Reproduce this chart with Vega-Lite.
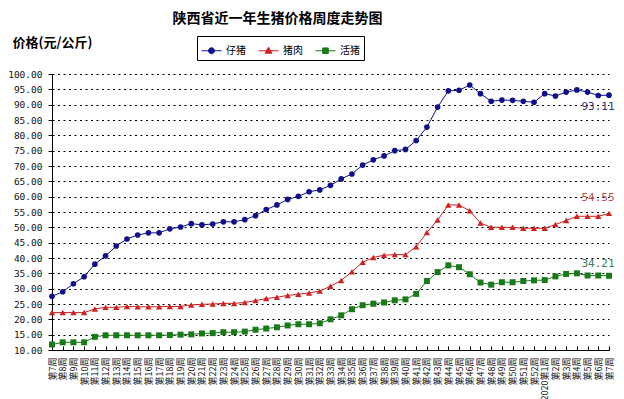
{
  "$schema": "https://vega.github.io/schema/vega-lite/v6.json",
  "width": 557,
  "height": 276,
  "autosize": "none",
  "padding": {"left": 52, "top": 74, "right": 15, "bottom": 49},
  "background": "white",
  "title": {
    "text": "陕西省近一年生猪价格周度走势图",
    "anchor": "middle",
    "frame": "group",
    "dx": -53,
    "dy": -6,
    "font": "Noto Sans CJK SC",
    "fontSize": 14,
    "fontWeight": "bold",
    "color": "#000"
  },
  "config": {
    "view": {"stroke": null},
    "font": "Noto Sans CJK SC"
  },
  "data": {
    "values": [
      {"i": 0, "仔猪": 27.5, "猪肉": 22.2, "活猪": 11.8},
      {"i": 1, "仔猪": 29.0, "猪肉": 22.2, "活猪": 12.5},
      {"i": 2, "仔猪": 31.6, "猪肉": 22.2, "活猪": 12.5},
      {"i": 3, "仔猪": 33.9, "猪肉": 22.2, "活猪": 12.5},
      {"i": 4, "仔猪": 38.0, "猪肉": 23.4, "活猪": 14.3},
      {"i": 5, "仔猪": 40.7, "猪肉": 23.9, "活猪": 14.8},
      {"i": 6, "仔猪": 43.9, "猪肉": 23.9, "活猪": 14.8},
      {"i": 7, "仔猪": 46.2, "猪肉": 24.2, "活猪": 14.8},
      {"i": 8, "仔猪": 47.5, "猪肉": 24.1, "活猪": 14.8},
      {"i": 9, "仔猪": 48.2, "猪肉": 24.1, "活猪": 14.8},
      {"i": 10, "仔猪": 48.2, "猪肉": 24.1, "活猪": 14.8},
      {"i": 11, "仔猪": 49.5, "猪肉": 24.2, "活猪": 14.9},
      {"i": 12, "仔猪": 50.1, "猪肉": 24.2, "活猪": 15.0},
      {"i": 13, "仔猪": 51.2, "猪肉": 24.7, "活猪": 15.1},
      {"i": 14, "仔猪": 50.8, "猪肉": 24.9, "活猪": 15.4},
      {"i": 15, "仔猪": 51.1, "猪肉": 25.0, "活猪": 15.5},
      {"i": 16, "仔猪": 51.8, "猪肉": 25.2, "活猪": 15.8},
      {"i": 17, "仔猪": 51.8, "猪肉": 25.2, "活猪": 15.8},
      {"i": 18, "仔猪": 52.5, "猪肉": 25.5, "活猪": 16.0},
      {"i": 19, "仔猪": 53.8, "猪肉": 26.1, "活猪": 16.6},
      {"i": 20, "仔猪": 55.8, "猪肉": 26.8, "活猪": 17.0},
      {"i": 21, "仔猪": 57.3, "猪肉": 27.2, "活猪": 17.4},
      {"i": 22, "仔猪": 59.1, "猪肉": 27.8, "活猪": 18.0},
      {"i": 23, "仔猪": 60.1, "猪肉": 28.2, "活猪": 18.4},
      {"i": 24, "仔猪": 61.6, "猪肉": 28.6, "活猪": 18.4},
      {"i": 25, "仔猪": 62.2, "猪肉": 29.2, "活猪": 18.7},
      {"i": 26, "仔猪": 63.7, "猪肉": 30.8, "活猪": 20.0},
      {"i": 27, "仔猪": 65.8, "猪肉": 32.7, "活猪": 21.3},
      {"i": 28, "仔猪": 67.4, "猪肉": 35.5, "活猪": 23.3},
      {"i": 29, "仔猪": 70.3, "猪肉": 38.6, "活猪": 24.6},
      {"i": 30, "仔猪": 72.0, "猪肉": 40.2, "活猪": 25.1},
      {"i": 31, "仔猪": 73.3, "猪肉": 40.9, "活猪": 25.5},
      {"i": 32, "仔猪": 75.0, "猪肉": 41.1, "活猪": 26.2},
      {"i": 33, "仔猪": 75.4, "猪肉": 41.1, "活猪": 26.5},
      {"i": 34, "仔猪": 78.3, "猪肉": 43.7, "活猪": 28.3},
      {"i": 35, "仔猪": 82.7, "猪肉": 48.3, "活猪": 32.5},
      {"i": 36, "仔猪": 89.2, "猪肉": 52.4, "活猪": 35.4},
      {"i": 37, "仔猪": 94.5, "猪肉": 57.3, "活猪": 37.6},
      {"i": 38, "仔猪": 94.7, "猪肉": 57.3, "活猪": 37.0},
      {"i": 39, "仔猪": 96.4, "猪肉": 55.4, "活猪": 34.7},
      {"i": 40, "仔猪": 93.6, "猪肉": 51.4, "活猪": 32.0},
      {"i": 41, "仔猪": 91.1, "猪肉": 50.0, "活猪": 31.3},
      {"i": 42, "仔猪": 91.5, "猪肉": 50.0, "活猪": 32.1},
      {"i": 43, "仔猪": 91.4, "猪肉": 50.0, "活猪": 32.1},
      {"i": 44, "仔猪": 91.1, "猪肉": 49.7, "活猪": 32.5},
      {"i": 45, "仔猪": 90.8, "猪肉": 49.7, "活猪": 32.7},
      {"i": 46, "仔猪": 93.6, "猪肉": 49.7, "活猪": 32.8},
      {"i": 47, "仔猪": 92.8, "猪肉": 50.9, "活猪": 34.0},
      {"i": 48, "仔猪": 94.1, "猪肉": 52.2, "活猪": 34.8},
      {"i": 49, "仔猪": 94.8, "猪肉": 53.6, "活猪": 35.0},
      {"i": 50, "仔猪": 94.1, "猪肉": 53.6, "活猪": 34.3},
      {"i": 51, "仔猪": 93.0, "猪肉": 53.6, "活猪": 34.3},
      {"i": 52, "仔猪": 93.11, "猪肉": 54.55, "活猪": 34.21}
    ]
  },
  "transform": [
    {"fold": ["仔猪", "猪肉", "活猪"], "as": ["s", "v"]}
  ],
  "encoding": {
    "x": {
      "field": "i",
      "type": "ordinal",
      "scale": {"type": "point", "padding": 0},
      "axis": {
        "title": null,
        "labelAngle": -90,
        "labelExpr": "datum.value < 46 ? '第' + (datum.value + 7) + '周' : (datum.value == 46 ? '2020第1周' : '第' + (datum.value - 45) + '周')",
        "labelFont": "Noto Sans CJK SC",
        "labelFontSize": 9,
        "labelColor": "#111",
        "labelPadding": 11,
        "labelOverlap": false,
        "labelFlush": false,
        "tickSize": -4,
        "tickColor": "#000",
        "domainColor": "#000",
        "domainWidth": 1,
        "grid": false
      }
    },
    "y": {
      "field": "v",
      "type": "quantitative",
      "scale": {"domain": [10, 100], "nice": false, "zero": false},
      "axis": {
        "values": [10, 15, 20, 25, 30, 35, 40, 45, 50, 55, 60, 65, 70, 75, 80, 85, 90, 95, 100],
        "format": ".2f",
        "labelFont": "DejaVu Sans Mono",
        "labelFontSize": 9.5,
        "labelColor": "#111",
        "labelPadding": 6,
        "tickSize": 4,
        "tickColor": "#000",
        "domainColor": "#000",
        "grid": true,
        "gridColor": "#000",
        "gridDash": [2, 3.5],
        "gridWidth": 1,
        "title": "价格(元/公斤)",
        "titleAngle": 0,
        "titleAlign": "left",
        "titleBaseline": "middle",
        "titleX": -40,
        "titleY": -32,
        "titleFont": "Noto Sans CJK SC",
        "titleFontSize": 13,
        "titleFontWeight": "bold",
        "titleColor": "#000"
      }
    },
    "color": {
      "field": "s",
      "type": "nominal",
      "scale": {"domain": ["仔猪", "猪肉", "活猪"], "range": ["#10108C", "#CC2222", "#1A7A1A"]},
      "legend": {
        "orient": "none",
        "legendX": 145,
        "legendY": -38,
        "direction": "horizontal",
        "columns": 3,
        "title": null,
        "strokeColor": "#000",
        "padding": 4,
        "symbolSize": 400,
        "symbolStrokeWidth": 1,
        "labelFont": "Noto Sans CJK SC",
        "labelFontSize": 10,
        "labelColor": "#000",
        "labelOffset": 4,
        "columnPadding": 10,
        "encode": {
          "symbols": {
            "update": {
              "shape": {"signal": "datum.value == '仔猪' ? 'M-1,0H1M-0.3,0A0.3,0.3 0 1,1 0.3,0A0.3,0.3 0 1,1 -0.3,0Z' : (datum.value == '猪肉' ? 'M-1,0H1M0,-0.36L0.34,0.24L-0.34,0.24Z' : 'M-1,0H1M-0.28,-0.28H0.28V0.28H-0.28Z')"},
              "fill": {"scale": "color", "field": "value"},
              "stroke": {"scale": "color", "field": "value"},
              "opacity": {"value": 1}
            }
          }
        }
      }
    }
  },
  "layer": [
    {"mark": {"type": "line", "strokeWidth": 1}},
    {"transform": [{"filter": "datum.s == '仔猪'"}], "mark": {"type": "point", "shape": "circle", "filled": true, "size": 32, "opacity": 1}},
    {"transform": [{"filter": "datum.s == '猪肉'"}], "mark": {"type": "point", "shape": "triangle-up", "filled": true, "size": 40, "opacity": 1}},
    {"transform": [{"filter": "datum.s == '活猪'"}], "mark": {"type": "point", "shape": "square", "filled": true, "size": 36, "opacity": 1}},
    {
      "transform": [{"filter": "datum.i == 52 && datum.s == '仔猪'"}],
      "mark": {"type": "text", "font": "DejaVu Sans Mono", "fontSize": 11, "dx": -11, "dy": 12, "align": "center", "baseline": "middle"},
      "encoding": {"text": {"field": "v", "format": ".2f"}, "color": {"value": "#33336E"}}
    },
    {
      "transform": [{"filter": "datum.i == 52 && datum.s == '猪肉'"}],
      "mark": {"type": "text", "font": "DejaVu Sans Mono", "fontSize": 11, "dx": -11, "dy": -15, "align": "center", "baseline": "middle"},
      "encoding": {"text": {"field": "v", "format": ".2f"}, "color": {"value": "#B84C4C"}}
    },
    {
      "transform": [{"filter": "datum.i == 52 && datum.s == '活猪'"}],
      "mark": {"type": "text", "font": "DejaVu Sans Mono", "fontSize": 11, "dx": -11, "dy": -12, "align": "center", "baseline": "middle"},
      "encoding": {"text": {"field": "v", "format": ".2f"}, "color": {"value": "#3C7C5C"}}
    }
  ]
}
